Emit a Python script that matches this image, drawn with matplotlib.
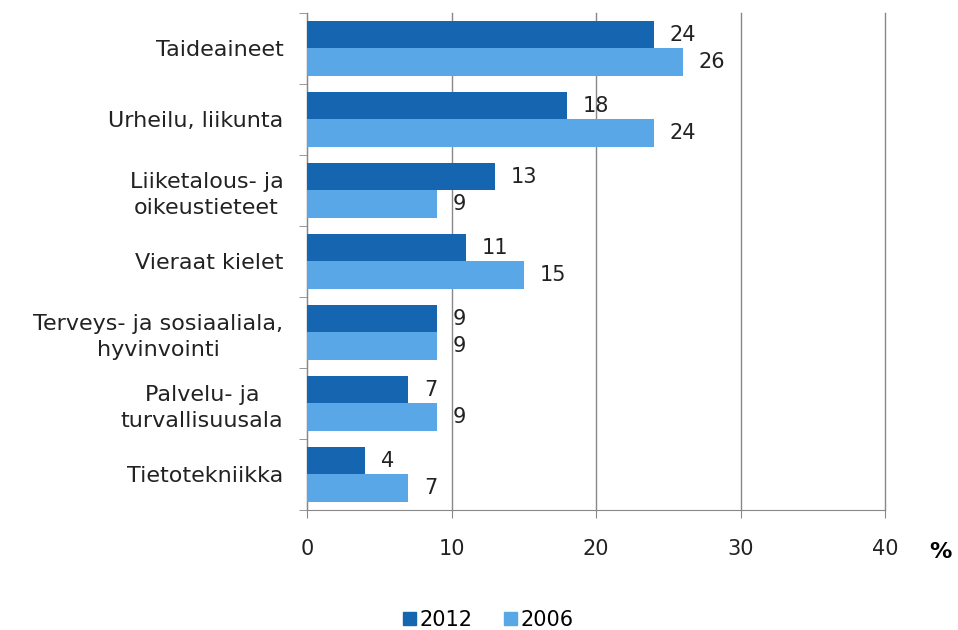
import numpy as np
import matplotlib.pyplot as plt
from matplotlib.ticker import FixedLocator, NullFormatter

plt.rcParams['font.family'] = ['DejaVu Sans']

categories = ["Taideaineet", "Urheilu, liikunta", "Liiketalous- ja\noikeustieteet",
              "Vieraat kielet", "Terveys- ja sosiaaliala,\nhyvinvointi",
              "Palvelu- ja\nturvallisuusala", "Tietotekniikka"]
values_2012 = [24, 18, 13, 11, 9, 7, 4]
values_2006 = [26, 24, 9, 15, 9, 9, 7]
years = ["2012", "2006"]
colors = ["#1565b0", "#5aa7e8"]

fs = 15
fig = plt.figure(figsize=(9.58, 6.3), dpi=100)
ax = fig.add_axes([0.3205, 0.1905, 0.6033, 0.789])

y = np.arange(len(categories))
h = 0.39
ax.barh(y - h / 2, values_2012, height=h, color=colors[0], zorder=3)
ax.barh(y + h / 2, values_2006, height=h, color=colors[1], zorder=3)

for yi, v in zip(y, values_2012):
    ax.text(v + 1.1, yi - h / 2, str(v), va='center', ha='left', fontsize=fs, color='#222222')
for yi, v in zip(y, values_2006):
    ax.text(v + 1.1, yi + h / 2, str(v), va='center', ha='left', fontsize=fs, color='#222222')

ax.set_xlim(0, 40)
ax.set_ylim(len(categories) - 0.5, -0.5)
ax.set_xticks([0, 10, 20, 30, 40])
ax.tick_params(axis='x', labelsize=fs, length=6, color='#888888', pad=15, labelcolor='#222222')
ax.set_yticks(y)
ax.set_yticklabels(categories, fontsize=16, ha='right', multialignment='center',
                   linespacing=1.35, color='#222222')
ax.tick_params(axis='y', which='major', length=0, pad=17)
ax.yaxis.set_minor_locator(FixedLocator(np.arange(-0.5, len(categories), 1.0)))
ax.yaxis.set_minor_formatter(NullFormatter())
ax.tick_params(axis='y', which='minor', length=6, color='#888888')

ax.grid(axis='x', color='#888888', linewidth=1, zorder=0)
for line in ax.get_xgridlines():
    line.set_clip_on(False)
for s in ['top', 'right']:
    ax.spines[s].set_visible(False)
for s in ['left', 'bottom']:
    ax.spines[s].set_color('#888888')

fig.text(0.982, 0.124, "%", fontsize=16, fontweight='bold', ha='center', va='center')

handles = [plt.Rectangle((0, 0), 1, 1, color=c) for c in colors]
fig.legend(handles, years, loc='center', bbox_to_anchor=(0.51, 0.016), ncol=2,
           frameon=False, fontsize=fs, handlelength=0.6, handleheight=0.6,
           handletextpad=0.2, columnspacing=1.5)

fig.savefig("out.png", dpi=100)
